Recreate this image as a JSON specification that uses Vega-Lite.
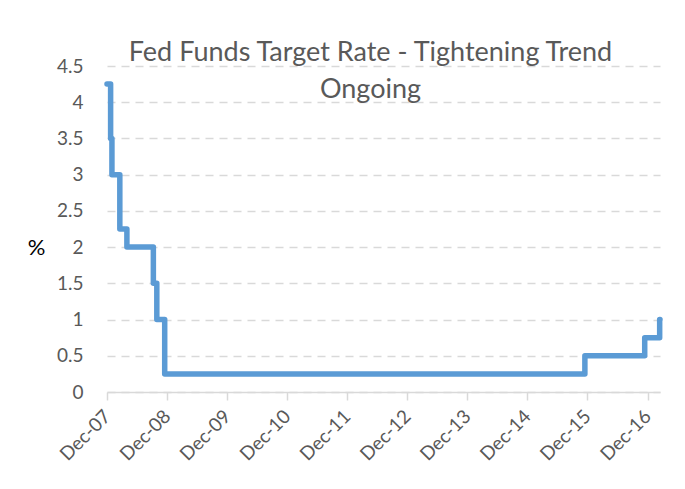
{
  "$schema": "https://vega.github.io/schema/vega-lite/v6.json",
  "autosize": {"type": "none"},
  "width": 553,
  "height": 326,
  "padding": {"left": 107, "top": 66, "right": 25, "bottom": 97},
  "background": "white",
  "config": {"view": {"stroke": null}, "font": "Lato"},
  "title": {
    "text": ["Fed Funds Target Rate - Tightening Trend", "Ongoing"],
    "font": "Lato",
    "fontSize": 27,
    "fontWeight": "normal",
    "color": "#595959",
    "anchor": "middle",
    "frame": "group",
    "baseline": "alphabetic",
    "lineHeight": 37,
    "offset": 0,
    "dx": -13,
    "dy": 68
  },
  "data": {
    "values": [
      {"date": "2007-12-31", "rate": 4.25},
      {"date": "2008-01-22", "rate": 3.5},
      {"date": "2008-01-30", "rate": 3.0},
      {"date": "2008-03-18", "rate": 2.25},
      {"date": "2008-04-30", "rate": 2.0},
      {"date": "2008-10-08", "rate": 1.5},
      {"date": "2008-10-29", "rate": 1.0},
      {"date": "2008-12-16", "rate": 0.25},
      {"date": "2015-12-16", "rate": 0.5},
      {"date": "2016-12-14", "rate": 0.75},
      {"date": "2017-03-15", "rate": 1.0},
      {"date": "2017-03-17", "rate": 1.0}
    ]
  },
  "mark": {
    "type": "line",
    "interpolate": "step-after",
    "color": "#5b9bd5",
    "strokeWidth": 5.5,
    "strokeCap": "round",
    "strokeJoin": "round"
  },
  "encoding": {
    "x": {
      "field": "date",
      "type": "temporal",
      "scale": {
        "type": "utc",
        "domain": [
          {"year": 2007, "month": 12, "date": 31, "utc": true},
          {"year": 2017, "month": 3, "date": 17, "utc": true}
        ]
      },
      "axis": {
        "title": null,
        "values": [
          {"year": 2007, "month": 12, "date": 31, "utc": true},
          {"year": 2008, "month": 12, "date": 31, "utc": true},
          {"year": 2009, "month": 12, "date": 31, "utc": true},
          {"year": 2010, "month": 12, "date": 31, "utc": true},
          {"year": 2011, "month": 12, "date": 31, "utc": true},
          {"year": 2012, "month": 12, "date": 31, "utc": true},
          {"year": 2013, "month": 12, "date": 31, "utc": true},
          {"year": 2014, "month": 12, "date": 31, "utc": true},
          {"year": 2015, "month": 12, "date": 31, "utc": true},
          {"year": 2016, "month": 12, "date": 31, "utc": true}
        ],
        "format": "%b-%y",
        "grid": false,
        "domainColor": "#d9d9d9",
        "domainWidth": 1.5,
        "tickColor": "#d9d9d9",
        "tickWidth": 1.5,
        "tickSize": 8,
        "labelAngle": -45,
        "labelAlign": "right",
        "labelBaseline": "middle",
        "labelFont": "Lato",
        "labelFontSize": 19,
        "labelColor": "#595959",
        "labelPadding": 13,
        "labelOverlap": false,
        "labelFlush": false
      }
    },
    "y": {
      "field": "rate",
      "type": "quantitative",
      "scale": {"domain": [0, 4.5], "nice": false, "zero": true},
      "axis": {
        "title": "%",
        "titleAngle": 0,
        "titleX": -71,
        "titleY": 181,
        "titleAlign": "center",
        "titleBaseline": "middle",
        "titleFont": "Lato",
        "titleFontSize": 22,
        "titleFontWeight": "normal",
        "titleColor": "#000000",
        "values": [0, 0.5, 1, 1.5, 2, 2.5, 3, 3.5, 4, 4.5],
        "format": "~g",
        "domain": false,
        "ticks": false,
        "tickSize": 0,
        "labelPadding": 24,
        "labelFont": "Lato",
        "labelFontSize": 19,
        "labelColor": "#595959",
        "grid": true,
        "gridColor": "#d9d9d9",
        "gridDash": [8, 6],
        "gridWidth": 1.5
      }
    }
  }
}
